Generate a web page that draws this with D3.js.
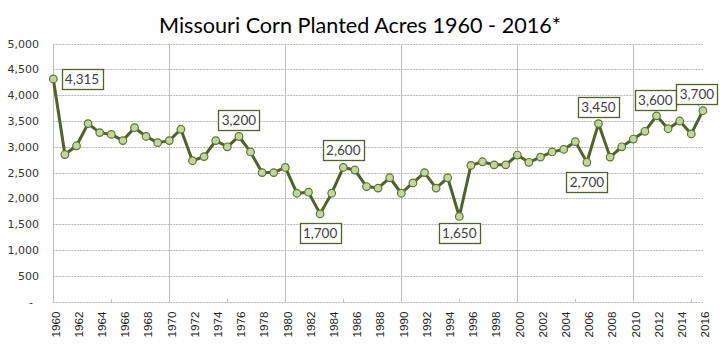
<!DOCTYPE html>
<html>
<head>
<meta charset="utf-8">
<script src="https://cdn.jsdelivr.net/npm/d3@7"></script>
<style>
  html, body { margin: 0; padding: 0; background: #fff; }
  svg { display: block; }
</style>
</head>
<body>
<svg id="chart" width="720" height="347"></svg>
<script>
// Missouri corn planted acres (thousand acres), 1960-2016
const years = [
  1960, 1961, 1962, 1963, 1964, 1965, 1966, 1967, 1968, 1969,
  1970, 1971, 1972, 1973, 1974, 1975, 1976, 1977, 1978, 1979,
  1980, 1981, 1982, 1983, 1984, 1985, 1986, 1987, 1988, 1989,
  1990, 1991, 1992, 1993, 1994, 1995, 1996, 1997, 1998, 1999,
  2000, 2001, 2002, 2003, 2004, 2005, 2006, 2007, 2008, 2009,
  2010, 2011, 2012, 2013, 2014, 2015, 2016
];
const acres = [
  4315, 2850, 3020, 3450, 3275, 3240, 3120, 3370, 3200, 3080,
  3120, 3340, 2730, 2810, 3120, 3000, 3200, 2900, 2500, 2500,
  2600, 2100, 2120, 1700, 2100, 2600, 2550, 2230, 2200, 2400,
  2100, 2300, 2500, 2200, 2400, 1650, 2640, 2710, 2650, 2650,
  2840, 2700, 2800, 2900, 2950, 3100, 2700, 3450, 2800, 3000,
  3150, 3300, 3600, 3350, 3500, 3250, 3700
];
const yTicks = [0, 500, 1000, 1500, 2000, 2500, 3000, 3500, 4000, 4500, 5000];
const xTickYears = [
  1960, 1962, 1964, 1966, 1968, 1970, 1972, 1974, 1976, 1978,
  1980, 1982, 1984, 1986, 1988, 1990, 1992, 1994, 1996, 1998,
  2000, 2002, 2004, 2006, 2008, 2010, 2012, 2014, 2016
];
const decadeYears = [1970, 1980, 1990, 2000, 2010];
const minorTickYears = [1965, 1975, 1985, 1995, 2005, 2015];
const calloutYears = [1960, 1976, 1983, 1985, 1995, 2006, 2007, 2012, 2016];

const data = years.map((yr, i) => ({ year: yr, value: acres[i] }));

const svg = d3.select("#chart");
const plotLeft = 53.3, plotRight = 702.9, plotTop = 43.6, plotBottom = 301.6;

const x = d3.scaleLinear().domain([1960, 2016]).range([plotLeft, plotRight]);
const y = d3.scaleLinear().domain([0, 5000]).range([plotBottom, plotTop]);

const olive = "#4F6228";
const fmt = d3.format(",");

// Title
svg.append("text")
  .attr("x", 360).attr("y", 33)
  .attr("text-anchor", "middle")
  .attr("font-family", "Lato, 'Open Sans', sans-serif")
  .attr("font-size", 21.6)
  .attr("fill", "#000")
  .text("Missouri Corn Planted Acres 1960 - 2016*");

// Horizontal gridlines (dotted)
svg.append("g").selectAll("line")
  .data(yTicks)
  .join("line")
  .attr("x1", plotLeft).attr("x2", plotRight)
  .attr("y1", d => Math.round(y(d)) + 0.5).attr("y2", d => Math.round(y(d)) + 0.5)
  .attr("stroke", "#B4B4C4")
  .attr("stroke-width", 1)
  .attr("stroke-dasharray", "2,1");

// Vertical gridlines every decade and the left axis line
svg.append("g").selectAll("line")
  .data([1960].concat(decadeYears))
  .join("line")
  .attr("x1", d => Math.round(x(d)) + 0.5).attr("x2", d => Math.round(x(d)) + 0.5)
  .attr("y1", Math.round(plotTop) + 0.5).attr("y2", Math.round(plotBottom) + 0.5)
  .attr("stroke", "#BFBFBF")
  .attr("stroke-width", 1);

// Minor tick marks on the category axis
svg.append("g").selectAll("line")
  .data(minorTickYears)
  .join("line")
  .attr("x1", d => Math.round(x(d)) + 0.5).attr("x2", d => Math.round(x(d)) + 0.5)
  .attr("y1", Math.round(plotBottom) - 3).attr("y2", Math.round(plotBottom) + 0.5)
  .attr("stroke", "#BFBFBF")
  .attr("stroke-width", 1);

// Y axis labels
const yAxis = d3.axisLeft(y)
  .tickValues(yTicks)
  .tickSize(0)
  .tickPadding(0)
  .tickFormat(d => d === 0 ? "-" : fmt(d));
const gy = svg.append("g")
  .attr("transform", "translate(39,0)")
  .call(yAxis);
gy.select(".domain").remove();
gy.selectAll("text")
  .attr("font-family", "'DejaVu Sans', Verdana, sans-serif")
  .attr("font-size", 11)
  .attr("fill", "#333");
gy.selectAll(".tick").filter(d => d === 0).select("text").attr("x", -6);

// X axis labels, rotated
const xAxis = d3.axisBottom(x)
  .tickValues(xTickYears)
  .tickSize(0)
  .tickPadding(0)
  .tickFormat(d3.format("d"));
const gx = svg.append("g")
  .attr("transform", `translate(0,${plotBottom})`)
  .call(xAxis);
gx.select(".domain").remove();
gx.selectAll("text")
  .attr("font-family", "'Liberation Sans', Arial, sans-serif")
  .attr("font-size", 11.6)
  .attr("fill", "#222")
  .attr("text-anchor", "end")
  .attr("dy", null)
  .attr("y", 0)
  .attr("transform", "translate(5.8,10) rotate(-90)");

// Series line
const line = d3.line().x(d => x(d.year)).y(d => y(d.value));
svg.append("path")
  .datum(data)
  .attr("d", line)
  .attr("fill", "none")
  .attr("stroke", olive)
  .attr("stroke-width", 3)
  .attr("stroke-linejoin", "round");

// Markers
svg.append("g").selectAll("circle")
  .data(data)
  .join("circle")
  .attr("cx", d => x(d.year))
  .attr("cy", d => y(d.value))
  .attr("r", 3.8)
  .attr("fill", "#C3D69B")
  .attr("stroke", "#5F7530")
  .attr("stroke-width", 1.2);

// Callout boxes: offset of each box centre from its point
const placement = {
  1960: [28.7, 0], 1976: [0, -16], 1983: [0, 18.7], 1985: [0, -17.6],
  1995: [0, 17], 2006: [0, 19.4], 2007: [0, -16.7], 2012: [-1.2, -16.3],
  2016: [-6, -17]
};
const boxW = 41, boxH = 20;
const callouts = data.filter(d => calloutYears.includes(d.year));
const gc = svg.append("g");
callouts.forEach(d => {
  const [dx, dy] = placement[d.year];
  const px = x(d.year), py = y(d.value);
  const cx = px + dx, cy = py + dy;
  if (d.year === 2016) {
    gc.append("line")
      .attr("x1", cx).attr("y1", cy + boxH / 2)
      .attr("x2", px).attr("y2", py)
      .attr("stroke", "#A6A6A6").attr("stroke-width", 1);
  }
  gc.append("rect")
    .attr("x", Math.round(cx - boxW / 2) + 0.5)
    .attr("y", Math.round(cy - boxH / 2) + 0.5)
    .attr("width", boxW).attr("height", boxH)
    .attr("fill", "#fff")
    .attr("stroke", olive)
    .attr("stroke-width", 1.3);
  gc.append("text")
    .attr("x", cx).attr("y", cy + 5)
    .attr("text-anchor", "middle")
    .attr("font-family", "Lato, 'Open Sans', sans-serif")
    .attr("font-size", 13.5)
    .attr("fill", "#404040")
    .text(fmt(d.value));
});
</script>
</body>
</html>
